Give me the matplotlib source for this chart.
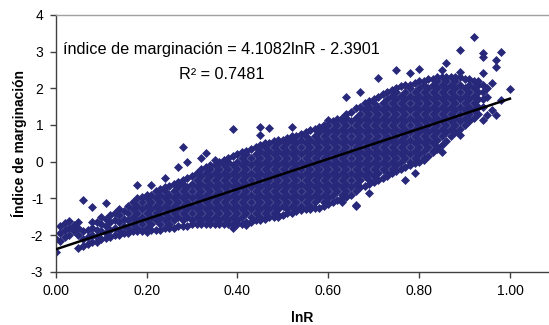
import numpy as np
import matplotlib
matplotlib.use("Agg")
import matplotlib.pyplot as plt

plt.rcParams['font.family'] = ['Liberation Sans', 'DejaVu Sans']

lnR_cols = [0.00, 0.01, 0.02, 0.03, 0.04, 0.05, 0.06, 0.07, 0.08, 0.09,
            0.10, 0.11, 0.12, 0.13, 0.14, 0.15, 0.16, 0.17, 0.18, 0.19,
            0.20, 0.21, 0.22, 0.23, 0.24, 0.25, 0.26, 0.27, 0.28, 0.29,
            0.30, 0.31, 0.32, 0.33, 0.34, 0.35, 0.36, 0.37, 0.38, 0.39,
            0.40, 0.41, 0.42, 0.43, 0.44, 0.45, 0.46, 0.47, 0.48, 0.49,
            0.50, 0.51, 0.52, 0.53, 0.54, 0.55, 0.56, 0.57, 0.58, 0.59,
            0.60, 0.61, 0.62, 0.63, 0.64, 0.65, 0.66, 0.67, 0.68, 0.69,
            0.70, 0.71, 0.72, 0.73, 0.74, 0.75, 0.76, 0.77, 0.78, 0.79,
            0.80, 0.81, 0.82, 0.83, 0.84, 0.85, 0.86, 0.87, 0.88, 0.89,
            0.90, 0.91, 0.92, 0.93, 0.94, 0.95, 0.96, 0.97, 0.98, 1.00]

indice_cols = [
    [-2.45, -2.1],
    [-2.15, -1.95, -1.75],
    [-2.05, -1.85, -1.68],
    [-2.0, -1.8, -1.62],
    [-1.9, -1.72],
    [-2.35, -2.0, -1.8, -1.65],
    [-2.3, -2.1, -1.9, -1.04],
    [-2.25, -2.05, -1.85],
    [-2.2, -2.0, -1.8, -1.65, -1.24],
    [-2.19, -2.05, -1.85, -1.65],
    [-2.1, -1.9, -1.7, -1.5],
    [-2.08, -1.95, -1.75, -1.55, -1.13],
    [-2.05, -1.85, -1.65, -1.45],
    [-2.0, -1.8, -1.6, -1.4],
    [-2.0, -1.85, -1.65, -1.45, -1.3],
    [-1.95, -1.75, -1.55, -1.35],
    [-1.95, -1.8, -1.6, -1.4, -1.2],
    [-1.9, -1.7, -1.5, -1.3, -1.1],
    [-1.9, -1.8, -1.6, -1.4, -1.2, -1.0, -0.64],
    [-1.9, -1.7, -1.5, -1.3, -1.1, -0.95],
    [-1.92, -1.8, -1.6, -1.4, -1.2, -1.0, -0.9],
    [-1.85, -1.7, -1.5, -1.3, -1.1, -0.9, -0.64],
    [-1.85, -1.6, -1.4, -1.2, -1.0, -0.8],
    [-1.85, -1.7, -1.5, -1.3, -1.1, -0.9, -0.75],
    [-1.81, -1.6, -1.4, -1.2, -1.0, -0.8, -0.7, -0.45],
    [-1.8, -1.7, -1.5, -1.3, -1.1, -0.9, -0.65],
    [-1.8, -1.6, -1.4, -1.2, -1.0, -0.8, -0.6],
    [-1.75, -1.5, -1.3, -1.1, -0.9, -0.7, -0.55, -0.14],
    [-1.75, -1.6, -1.4, -1.2, -1.0, -0.8, -0.6, -0.5, 0.4],
    [-1.75, -1.5, -1.3, -1.1, -0.9, -0.7, -0.45, 0.0],
    [-1.7, -1.6, -1.4, -1.2, -1.0, -0.8, -0.6, -0.4],
    [-1.7, -1.5, -1.3, -1.1, -0.9, -0.7, -0.5, -0.3],
    [-1.7, -1.6, -1.4, -1.2, -1.0, -0.8, -0.6, -0.4, -0.2, 0.1],
    [-1.7, -1.5, -1.3, -1.1, -0.9, -0.7, -0.5, -0.3, -0.15, 0.23],
    [-1.7, -1.6, -1.4, -1.2, -1.0, -0.8, -0.6, -0.4, -0.2, -0.1],
    [-1.7, -1.5, -1.3, -1.1, -0.9, -0.7, -0.5, -0.3, -0.1, 0.05],
    [-1.7, -1.6, -1.4, -1.2, -1.0, -0.8, -0.6, -0.4, -0.2, 0.0],
    [-1.7, -1.5, -1.3, -1.1, -0.9, -0.7, -0.5, -0.3, -0.1, 0.05],
    [-1.7, -1.6, -1.4, -1.2, -1.0, -0.8, -0.6, -0.4, -0.2, 0.0, 0.1],
    [-1.81, -1.7, -1.5, -1.3, -1.1, -0.9, -0.7, -0.5, -0.3, -0.1, 0.15, 0.89],
    [-1.7, -1.6, -1.4, -1.2, -1.0, -0.8, -0.6, -0.4, -0.2, 0.0, 0.2],
    [-1.7, -1.5, -1.3, -1.1, -0.9, -0.7, -0.5, -0.3, -0.1, 0.1, 0.25],
    [-1.73, -1.65, -1.4, -1.2, -1.0, -0.8, -0.6, -0.4, -0.2, 0.0, 0.2, 0.3],
    [-1.65, -1.5, -1.3, -1.1, -0.9, -0.7, -0.5, -0.3, -0.1, 0.1, 0.35],
    [-1.6, -1.4, -1.2, -1.0, -0.8, -0.6, -0.4, -0.2, 0.0, 0.2, 0.4],
    [-1.6, -1.5, -1.3, -1.1, -0.9, -0.7, -0.5, -0.3, -0.1, 0.1, 0.3, 0.45, 0.73, 0.95],
    [-1.55, -1.4, -1.2, -1.0, -0.8, -0.6, -0.4, -0.2, 0.0, 0.2, 0.4, 0.5],
    [-1.5, -1.3, -1.1, -0.9, -0.7, -0.5, -0.3, -0.1, 0.1, 0.3, 0.5, 0.92],
    [-1.5, -1.4, -1.2, -1.0, -0.8, -0.6, -0.4, -0.2, 0.0, 0.2, 0.4, 0.55],
    [-1.5, -1.45, -1.3, -1.1, -0.9, -0.7, -0.5, -0.3, -0.1, 0.1, 0.3, 0.5, 0.6],
    [-1.45, -1.2, -1.0, -0.8, -0.6, -0.4, -0.2, 0.0, 0.2, 0.4, 0.6],
    [-1.4, -1.3, -1.1, -0.9, -0.7, -0.5, -0.3, -0.1, 0.1, 0.3, 0.5, 0.65],
    [-1.4, -1.2, -1.0, -0.8, -0.6, -0.4, -0.2, 0.0, 0.2, 0.4, 0.6, 0.7, 0.95],
    [-1.35, -1.3, -1.1, -0.9, -0.7, -0.5, -0.3, -0.1, 0.1, 0.3, 0.5, 0.7],
    [-1.32, -1.2, -1.0, -0.8, -0.6, -0.4, -0.2, 0.0, 0.2, 0.4, 0.6, 0.75],
    [-1.3, -1.1, -0.9, -0.7, -0.5, -0.3, -0.1, 0.1, 0.3, 0.5, 0.7, 0.8],
    [-1.3, -1.2, -1.0, -0.8, -0.6, -0.4, -0.2, 0.0, 0.2, 0.4, 0.6, 0.85],
    [-1.25, -1.1, -0.9, -0.7, -0.5, -0.3, -0.1, 0.1, 0.3, 0.5, 0.7, 0.9],
    [-1.25, -1.0, -0.8, -0.6, -0.4, -0.2, 0.0, 0.2, 0.4, 0.6, 0.8, 0.95],
    [-1.2, -1.1, -0.9, -0.7, -0.5, -0.3, -0.1, 0.1, 0.3, 0.5, 0.7, 0.9, 1.0],
    [-1.15, -1.0, -0.8, -0.6, -0.4, -0.2, 0.0, 0.2, 0.4, 0.6, 0.8, 1.0, 1.14],
    [-1.1, -0.9, -0.7, -0.5, -0.3, -0.1, 0.1, 0.3, 0.5, 0.7, 0.9, 1.1],
    [-1.05, -0.8, -0.6, -0.4, -0.2, 0.0, 0.2, 0.4, 0.6, 0.8, 1.0, 1.15],
    [-1.1, -1.0, -0.9, -0.7, -0.5, -0.3, -0.1, 0.1, 0.3, 0.5, 0.7, 0.9, 1.1, 1.2],
    [-0.95, -0.8, -0.6, -0.4, -0.2, 0.0, 0.2, 0.4, 0.6, 0.8, 1.0, 1.2, 1.3, 1.77],
    [-0.9, -0.7, -0.5, -0.3, -0.1, 0.1, 0.3, 0.5, 0.7, 0.9, 1.1, 1.35],
    [-1.2, -1.18, -0.8, -0.6, -0.4, -0.2, 0.0, 0.2, 0.4, 0.6, 0.8, 1.0, 1.2, 1.45],
    [-0.7, -0.5, -0.3, -0.1, 0.1, 0.3, 0.5, 0.7, 0.9, 1.1, 1.3, 1.5, 1.9],
    [-0.65, -0.4, -0.2, 0.0, 0.2, 0.4, 0.6, 0.8, 1.0, 1.2, 1.4, 1.6],
    [-0.86, -0.6, -0.5, -0.3, -0.1, 0.1, 0.3, 0.5, 0.7, 0.9, 1.1, 1.3, 1.5, 1.65],
    [-0.55, -0.4, -0.2, 0.0, 0.2, 0.4, 0.6, 0.8, 1.0, 1.2, 1.4, 1.6, 1.7],
    [-0.5, -0.3, -0.1, 0.1, 0.3, 0.5, 0.7, 0.9, 1.1, 1.3, 1.5, 1.75, 2.28],
    [-0.45, -0.2, 0.0, 0.2, 0.4, 0.6, 0.8, 1.0, 1.2, 1.4, 1.6, 1.85],
    [-0.4, -0.3, -0.1, 0.1, 0.3, 0.5, 0.7, 0.9, 1.1, 1.3, 1.5, 1.7, 1.9],
    [-0.3, -0.2, 0.0, 0.2, 0.4, 0.6, 0.8, 1.0, 1.2, 1.4, 1.6, 1.8, 1.95],
    [-0.25, -0.1, 0.1, 0.3, 0.5, 0.7, 0.9, 1.1, 1.3, 1.5, 1.7, 1.9, 2.0, 2.5],
    [-0.2, 0.0, 0.2, 0.4, 0.6, 0.8, 1.0, 1.2, 1.4, 1.6, 1.8, 2.05],
    [-0.5, -0.15, 0.1, 0.3, 0.5, 0.7, 0.9, 1.1, 1.3, 1.5, 1.7, 1.9, 2.1],
    [-0.1, 0.0, 0.2, 0.4, 0.6, 0.8, 1.0, 1.2, 1.4, 1.6, 1.8, 2.0, 2.1, 2.42],
    [-0.31, -0.05, 0.1, 0.3, 0.5, 0.7, 0.9, 1.1, 1.3, 1.5, 1.7, 1.9, 2.15],
    [0.0, 0.2, 0.4, 0.6, 0.8, 1.0, 1.2, 1.4, 1.6, 1.8, 2.0, 2.2, 2.53],
    [0.05, 0.1, 0.3, 0.5, 0.7, 0.9, 1.1, 1.3, 1.5, 1.7, 1.9, 2.1, 2.2],
    [0.15, 0.4, 0.6, 0.8, 1.0, 1.2, 1.4, 1.6, 1.8, 2.0, 2.25],
    [0.25, 0.3, 0.5, 0.7, 0.9, 1.1, 1.3, 1.5, 1.7, 1.9, 2.1, 2.25],
    [0.35, 0.4, 0.6, 0.8, 1.0, 1.2, 1.4, 1.6, 1.8, 2.0, 2.2, 2.3],
    [0.26, 0.45, 0.7, 0.9, 1.1, 1.3, 1.5, 1.7, 1.9, 2.1, 2.3, 2.5],
    [0.55, 0.8, 1.0, 1.2, 1.4, 1.6, 1.8, 2.0, 2.2, 2.3, 2.69],
    [0.7, 0.9, 1.1, 1.3, 1.5, 1.7, 1.9, 2.1, 2.3],
    [0.8, 1.0, 1.2, 1.4, 1.6, 1.8, 2.0, 2.2, 2.3],
    [0.73, 0.9, 1.1, 1.3, 1.5, 1.7, 1.9, 2.1, 2.3, 2.45, 3.05],
    [1.0, 1.2, 1.4, 1.6, 1.8, 2.0, 2.25],
    [1.1, 1.14, 1.3, 1.5, 1.7, 1.9, 2.1, 2.25],
    [1.2, 1.4, 1.6, 1.8, 2.0, 2.2, 3.4],
    [1.3, 1.5, 1.7, 1.9, 2.1, 2.2],
    [1.14, 1.5, 1.7, 1.9, 2.1, 2.42, 2.86, 2.96],
    [1.27, 1.76, 2.0],
    [1.4, 2.14],
    [1.27, 2.58, 2.77],
    [1.68, 2.99],
    [1.98],
]

# trend line from the chart's equation
slope = 4.1082
intercept = -2.3901
r2 = 0.7481

x_ticks = [0.0, 0.2, 0.4, 0.6, 0.8, 1.0]
y_ticks = [-3, -2, -1, 0, 1, 2, 3, 4]

lnR = []
indice = []
for xv, ys in zip(lnR_cols, indice_cols):
    for yv in ys:
        lnR.append(xv)
        indice.append(yv)

fig = plt.figure(figsize=(5.49, 3.25), dpi=100)
ax = fig.add_axes([0.1015, 0.164, 0.8985, 0.79])

ax.scatter(lnR, indice, marker='D', s=21, color='#28287a', linewidths=0, zorder=2)

xl = np.array([0.0, 1.0])
ax.plot(xl, slope * xl + intercept, color='black', lw=1.8, zorder=3)

ax.set_xlim(0, 1.086)
ax.set_ylim(-3, 4)
ax.set_xticks(x_ticks)
ax.set_xticklabels(['%.2f' % v for v in x_ticks])
ax.set_yticks(y_ticks)
ax.set_yticklabels([str(v) for v in y_ticks])
ax.tick_params(direction='out', length=4, width=1, color='#404040',
               labelsize=10, labelcolor='black', pad=5)

for side in ['left', 'bottom']:
    ax.spines[side].set_color('#404040')
    ax.spines[side].set_linewidth(1.0)
ax.spines['top'].set_color('#a0a0a0')
ax.spines['top'].set_linewidth(1.0)
ax.spines['right'].set_visible(False)

ax.set_xlabel('lnR', fontsize=10, fontweight='bold', labelpad=9)
ax.set_ylabel('Índice de marginación', fontsize=10, fontweight='bold', labelpad=3)

ax.text(0.365, 3.05, 'índice de marginación = %.4flnR - %.4f' % (slope, -intercept),
        fontsize=11.7, ha='center', va='center')
ax.text(0.365, 2.38, 'R² = %.4f' % r2, fontsize=11.7, ha='center', va='center')

fig.savefig('out.png', dpi=100)
